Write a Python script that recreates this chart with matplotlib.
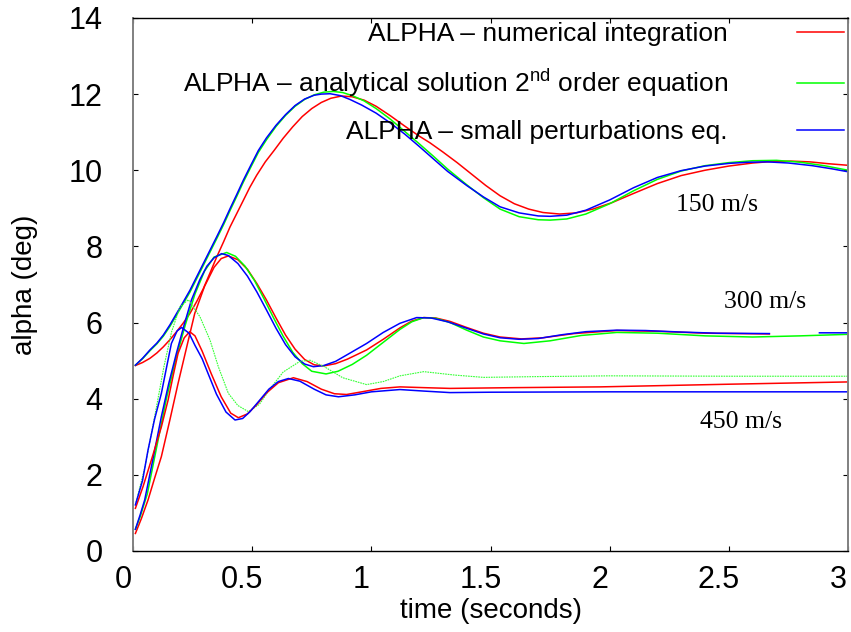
import numpy as np
import matplotlib
matplotlib.use('Agg')
import matplotlib.pyplot as plt
from matplotlib.transforms import ScaledTranslation

nan = float('nan')

# 150 m/s
t_150_num = [0.01, 0.04, 0.071, 0.10, 0.127, 0.155, 0.183, 0.21, 0.239, 0.267, 0.295, 0.323, 0.351, 0.38, 0.407,
             0.435, 0.463, 0.49, 0.519, 0.555, 0.592, 0.63, 0.67, 0.71, 0.75, 0.79, 0.83, 0.875, 0.92, 0.97, 1.02,
             1.08, 1.14, 1.20, 1.246, 1.30, 1.36, 1.42, 1.48, 1.54, 1.60, 1.66, 1.72, 1.79, 1.86, 1.93, 2.01, 2.10,
             2.20, 2.30, 2.40, 2.50, 2.60, 2.68, 2.76, 2.84, 2.92, 3.0]
a_150_num = [4.87, 4.95, 5.06, 5.20, 5.36, 5.55, 5.76, 5.98, 6.24, 6.55, 6.89, 7.30, 7.72, 8.12, 8.51,
             8.86, 9.21, 9.55, 9.87, 10.22, 10.52, 10.84, 11.14, 11.41, 11.62, 11.78, 11.89, 11.95, 11.93, 11.84, 11.68,
             11.43, 11.16, 10.90, 10.72, 10.48, 10.20, 9.90, 9.60, 9.33, 9.12, 8.98, 8.89, 8.85, 8.88, 8.98, 9.15, 9.39,
             9.65, 9.86, 10.00, 10.11, 10.19, 10.23, 10.24, 10.22, 10.17, 10.13]
t_150_ana = [0.01, 0.04, 0.071, 0.10, 0.127, 0.155, 0.183, 0.21, 0.239, 0.267, 0.295, 0.323, 0.351, 0.38, 0.407,
             0.435, 0.463, 0.495, 0.526, 0.56, 0.60, 0.64, 0.68, 0.72, 0.76, 0.80, 0.84, 0.88, 0.92, 0.97, 1.02,
             1.08, 1.14, 1.20, 1.26, 1.32, 1.40, 1.47, 1.54, 1.62, 1.70, 1.75, 1.82, 1.90, 2.0, 2.10, 2.20, 2.30,
             2.40, 2.50, 2.60, 2.70, 2.80, 2.90, 3.0]
a_150_ana = [4.88, 5.05, 5.26, 5.44, 5.64, 5.90, 6.20, 6.49, 6.80, 7.15, 7.50, 7.85, 8.20, 8.57, 8.94,
             9.31, 9.69, 10.09, 10.47, 10.80, 11.15, 11.44, 11.68, 11.86, 11.98, 12.05, 12.07, 12.04, 11.96, 11.82, 11.62,
             11.34, 11.02, 10.70, 10.37, 10.03, 9.62, 9.28, 8.98, 8.78, 8.70, 8.69, 8.72, 8.85, 9.12, 9.46, 9.76, 9.98,
             10.12, 10.20, 10.25, 10.26, 10.21, 10.12, 10.0]
t_150_sp = [0.01, 0.04, 0.071, 0.10, 0.127, 0.155, 0.183, 0.21, 0.239, 0.267, 0.295, 0.323, 0.351, 0.38, 0.407,
            0.435, 0.463, 0.495, 0.526, 0.56, 0.60, 0.64, 0.68, 0.72, 0.76, 0.79, 0.827, 0.87, 0.91, 0.96, 1.02,
            1.08, 1.14, 1.20, 1.26, 1.32, 1.40, 1.47, 1.54, 1.62, 1.70, 1.75, 1.82, 1.90, 2.0, 2.10, 2.20, 2.30,
            2.40, 2.50, 2.58, 2.66, 2.75, 2.85, 2.93, 3.0]
a_150_sp = [4.88, 5.06, 5.28, 5.46, 5.67, 5.94, 6.24, 6.53, 6.85, 7.20, 7.55, 7.90, 8.25, 8.62, 8.99,
            9.36, 9.74, 10.14, 10.52, 10.85, 11.18, 11.46, 11.70, 11.87, 11.97, 12.00, 12.01, 11.96, 11.86, 11.71, 11.50,
            11.24, 10.95, 10.63, 10.30, 9.97, 9.60, 9.30, 9.04, 8.88, 8.80, 8.79, 8.82, 8.95, 9.22, 9.54, 9.81, 9.99,
            10.11, 10.18, 10.21, 10.22, 10.19, 10.12, 10.04, 9.96]

# 300 m/s
t_300_num = [0.01, 0.035, 0.063, 0.09, 0.119, 0.155, 0.189, 0.225, 0.259, 0.30, 0.34, 0.37, 0.40, 0.44, 0.48,
             0.52, 0.56, 0.60, 0.64, 0.68, 0.72, 0.76, 0.80, 0.85, 0.90, 0.98, 1.05, 1.12, 1.17, 1.22, 1.27, 1.33,
             1.40, 1.47, 1.54, 1.63, 1.72, 1.85, 2.03, 2.20, 2.40, 2.67]
a_300_num = [0.46, 0.85, 1.34, 1.90, 2.48, 3.45, 4.40, 5.35, 6.24, 6.95, 7.45, 7.68, 7.75, 7.65, 7.40,
             7.02, 6.59, 6.12, 5.67, 5.30, 5.03, 4.89, 4.86, 4.92, 5.04, 5.28, 5.56, 5.86, 6.04, 6.13, 6.12, 6.03,
             5.87, 5.72, 5.62, 5.57, 5.60, 5.71, 5.79, 5.77, 5.72, 5.70]
t_300_ana = [0.01, 0.03, 0.06, 0.10, 0.14, 0.18, 0.22, 0.26, 0.30, 0.34, 0.393, 0.43, 0.47, 0.51, 0.55, 0.59,
             0.63, 0.67, 0.71, 0.75, 0.81, 0.86, 0.92, 0.98, 1.05, 1.12, 1.17, 1.22, 1.27, 1.33, 1.40, 1.47, 1.54,
             1.64, 1.75, 1.88, 2.03, 2.20, 2.40, 2.60, 2.80, 3.0]
a_300_ana = [0.57, 0.90, 1.50, 2.75, 4.00, 5.05, 5.95, 6.75, 7.35, 7.72, 7.84, 7.74, 7.48, 7.10, 6.62, 6.12,
             5.64, 5.22, 4.92, 4.72, 4.65, 4.72, 4.90, 5.14, 5.48, 5.82, 6.02, 6.13, 6.11, 6.00, 5.80, 5.62, 5.52,
             5.45, 5.52, 5.66, 5.74, 5.72, 5.65, 5.62, 5.65, 5.69]
t_300_sp = [0.01, 0.03, 0.049, 0.08, 0.119, 0.15, 0.182, 0.215, 0.245, 0.28, 0.31, 0.34, 0.372, 0.40, 0.44,
            0.48, 0.52, 0.56, 0.60, 0.64, 0.68, 0.72, 0.757, 0.80, 0.85, 0.90, 0.98, 1.05, 1.12, 1.19, 1.25, 1.32,
            1.40, 1.47, 1.54, 1.62, 1.70, 1.80, 1.90, 2.03, 2.15, 2.30, 2.45, 2.67, 2.78, 2.88, 3.0]
a_300_sp = [0.57, 0.95, 1.34, 2.30, 3.53, 4.40, 5.19, 5.95, 6.59, 7.12, 7.48, 7.70, 7.81, 7.76, 7.55,
            7.22, 6.80, 6.33, 5.85, 5.42, 5.10, 4.91, 4.84, 4.87, 4.98, 5.16, 5.45, 5.74, 5.98, 6.13, 6.12, 6.02,
            5.85, 5.70, 5.60, 5.56, 5.58, 5.68, 5.76, 5.80, 5.79, 5.75, 5.72, 5.71, nan, 5.73, 5.73]

# 450 m/s
t_450_num = [0.01, 0.042, 0.08, 0.119, 0.147, 0.17, 0.189, 0.215, 0.238, 0.26, 0.29, 0.328, 0.37, 0.41, 0.442,
             0.48, 0.52, 0.56, 0.61, 0.673, 0.73, 0.79, 0.845, 0.896, 0.96, 1.04, 1.12, 1.22, 1.33, 1.60, 1.96,
             2.50, 3.0]
a_450_num = [1.12, 1.69, 2.45, 3.26, 3.96, 4.65, 5.19, 5.60, 5.76, 5.65, 5.25, 4.66, 4.05, 3.62, 3.50,
             3.60, 3.85, 4.15, 4.42, 4.55, 4.45, 4.25, 4.13, 4.11, 4.18, 4.27, 4.31, 4.29, 4.27, 4.29, 4.31,
             4.38, 4.44]
t_450_ana = [0.01, 0.05, 0.09, 0.13, 0.162, 0.197, 0.232, 0.281, 0.323, 0.358, 0.40, 0.44, 0.484, 0.53, 0.58,
             0.63, 0.70, 0.743, 0.80, 0.88, 0.98, 1.05, 1.12, 1.22, 1.35, 1.47, 1.70, 2.0, 2.5, 3.0]
a_450_ana = [1.21, 2.20, 3.50, 4.85, 5.76, 6.41, 6.60, 6.15, 5.54, 4.84, 4.14, 3.82, 3.66, 3.85, 4.30,
             4.70, 4.98, 5.01, 4.85, 4.55, 4.37, 4.45, 4.60, 4.71, 4.62, 4.56, 4.58, 4.60, 4.59, 4.59]
t_450_sp = [0.01, 0.04, 0.063, 0.09, 0.119, 0.14, 0.161, 0.185, 0.204, 0.235, 0.26, 0.29, 0.315, 0.35, 0.39,
            0.428, 0.46, 0.491, 0.53, 0.57, 0.61, 0.652, 0.70, 0.76, 0.81, 0.862, 0.93, 1.00, 1.12, 1.22, 1.33,
            1.50, 2.0, 2.5, 3.0]
a_450_sp = [1.21, 1.85, 2.65, 3.45, 4.14, 4.80, 5.45, 5.78, 5.87, 5.72, 5.40, 5.05, 4.66, 4.12, 3.65,
            3.44, 3.48, 3.66, 3.95, 4.25, 4.45, 4.53, 4.46, 4.25, 4.10, 4.05, 4.10, 4.18, 4.24, 4.20, 4.16,
            4.17, 4.18, 4.18, 4.18]

speed_labels = ['150 m/s', '300 m/s', '450 m/s']
speed_label_pos = [(2.45, 9.08), (2.65, 6.54), (2.55, 3.39)]

legend_labels = ['ALPHA \u2013 numerical integration',
                 'ALPHA \u2013 analytical solution 2$^{\\mathrm{nd}}$ order equation',
                 'ALPHA \u2013 small perturbations eq.']

plt.rcParams['font.family'] = ['Liberation Sans', 'DejaVu Sans']
plt.rcParams['mathtext.fontset'] = 'custom'
plt.rcParams['mathtext.rm'] = 'Liberation Sans'

red = '#ff0000'
green = '#00ff00'
blue = '#0000ff'
lw = 1.1

fig = plt.figure(figsize=(8.51, 6.32), dpi=100)
ax = fig.add_axes([0.1563, 0.1282, 0.8402, 0.8434])

l1, = ax.plot(t_150_num, a_150_num, color=red, lw=lw)
l2, = ax.plot(t_150_ana, a_150_ana, color=green, lw=lw)
l3, = ax.plot(t_150_sp, a_150_sp, color=blue, lw=lw)

ax.plot(t_300_num, a_300_num, color=red, lw=lw)
ax.plot(t_300_ana, a_300_ana, color=green, lw=lw)
ax.plot(t_300_sp, a_300_sp, color=blue, lw=lw)

ax.plot(t_450_ana, a_450_ana, color='#33ff33', lw=0.8, dashes=(1.5, 0.8))
ax.plot(t_450_num, a_450_num, color=red, lw=lw)
ax.plot(t_450_sp, a_450_sp, color=blue, lw=lw)

for lab, (x, y) in zip(speed_labels, speed_label_pos):
    ax.text(x, y, lab, fontsize=18.5, family='Liberation Serif', ha='center', va='center')

ax.legend([l1, l2, l3], legend_labels, loc='upper right', bbox_to_anchor=(1.0, 1.0),
          markerfirst=False, frameon=False, fontsize=19, handlelength=1.8,
          handletextpad=2.6, labelspacing=0.78, borderaxespad=0.0, borderpad=0.15)

ax.set_xlim(0, 3)
ax.set_ylim(0, 14)
ax.set_xticks([0, 0.5, 1, 1.5, 2, 2.5, 3])
ax.set_xticklabels(['0', '0.5', '1', '1.5', '2', '2.5', '3'])
ax.set_yticks(np.arange(0, 15, 2))

ax.tick_params(direction='in', length=3.6, width=0.8, top=True, right=True)
ax.tick_params(axis='x', labelsize=22, pad=10)
ax.tick_params(axis='y', labelsize=22, pad=22)

# shift x tick labels slightly to the left like in the original
offset = ScaledTranslation(-0.10, 0, fig.dpi_scale_trans)
for lbl in ax.get_xticklabels():
    lbl.set_transform(lbl.get_transform() + offset)

ax.set_xlabel('time (seconds)', fontsize=20, labelpad=2)
ax.set_ylabel('alpha (deg)', fontsize=20, labelpad=22)

for s in ['left', 'right']:
    ax.spines[s].set_color('#808080')
    ax.spines[s].set_linewidth(1.4)
for s in ['top', 'bottom']:
    ax.spines[s].set_color('black')
    ax.spines[s].set_linewidth(1.0)

fig.savefig('out.png', dpi=100)
